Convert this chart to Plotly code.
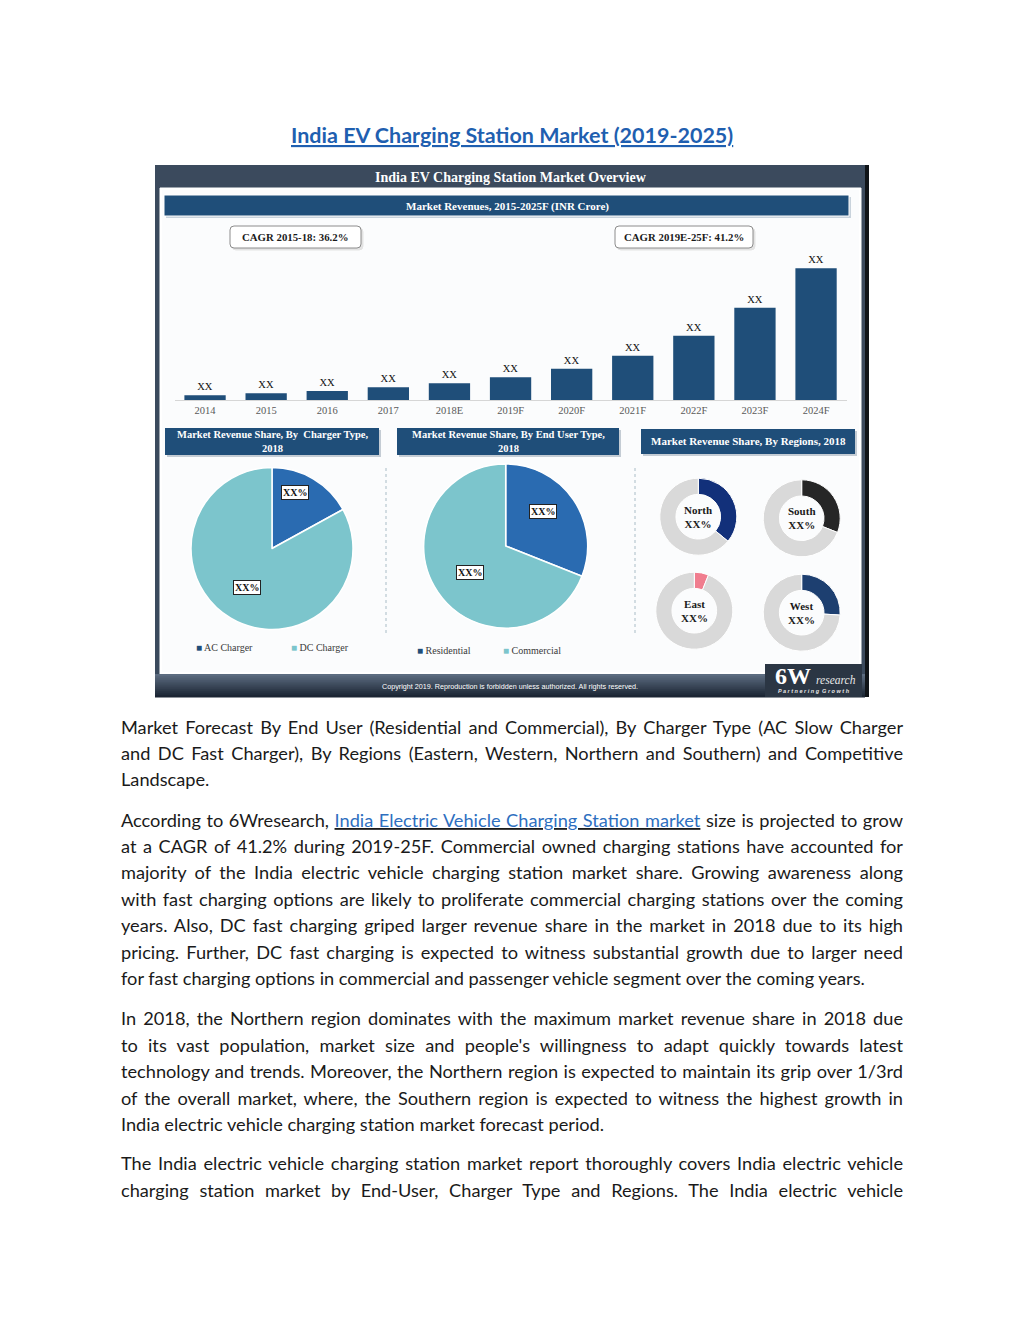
import json
import plotly.graph_objects as go

W, H = 1024, 1325


def px(x):
    return x / W


def py(y):
    return 1 - y / H


# ---------------- data ----------------
years = ["2014", "2015", "2016", "2017", "2018E", "2019F", "2020F", "2021F", "2022F", "2023F", "2024F"]
revenue = [4.7, 6.7, 9.0, 12.7, 16.7, 22.7, 31.3, 44.3, 64.3, 92.3, 131.7]
bar_labels = ["XX"] * len(years)

charger_types = ["AC Charger", "DC Charger"]
charger_share = [17, 83]
charger_labels = ["XX%", "XX%"]

end_users = ["Residential", "Commercial"]
end_user_share = [31, 69]
end_user_labels = ["XX%", "XX%"]

regions = ["North", "South", "East", "West"]
region_share = [36, 31, 6, 26]
region_labels = ["XX%", "XX%", "XX%", "XX%"]

cagr_texts = ["CAGR 2015-18: 36.2%", "CAGR 2019E-25F: 41.2%"]

page_title = "India EV Charging Station Market (2019-2025)"
panel_title = "India EV Charging Station Market Overview"
bar_title = "Market Revenues, 2015-2025F (INR Crore)"
section_titles = ["Market Revenue Share, By  Charger Type,<br>2018",
                  "Market Revenue Share, By End User Type,<br>2018",
                  "Market Revenue Share, By Regions, 2018"]
copyright_text = "Copyright 2019. Reproduction is forbidden unless authorized. All rights reserved."

link_text = "India Electric Vehicle Charging Station market"
paragraphs = [
    ["Market Forecast By End User (Residential and Commercial), By Charger Type (AC Slow Charger",
     "and DC Fast Charger), By Regions (Eastern, Western, Northern and Southern) and Competitive",
     "Landscape."],
    ["According to 6Wresearch, {LINK} size is projected to grow",
     "at a CAGR of 41.2% during 2019-25F. Commercial owned charging stations have accounted for",
     "majority of the India electric vehicle charging station market share. Growing awareness along",
     "with fast charging options are likely to proliferate commercial charging stations over the coming",
     "years. Also, DC fast charging griped larger revenue share in the market in 2018 due to its high",
     "pricing. Further, DC fast charging is expected to witness substantial growth due to larger need",
     "for fast charging options in commercial and passenger vehicle segment over the coming years."],
    ["In 2018, the Northern region dominates with the maximum market revenue share in 2018 due",
     "to its vast population, market size and people's willingness to adapt quickly towards latest",
     "technology and trends. Moreover, the Northern region is expected to maintain its grip over 1/3rd",
     "of the overall market, where, the Southern region is expected to witness the highest growth in",
     "India electric vehicle charging station market forecast period."],
    ["The India electric vehicle charging station market report thoroughly covers India electric vehicle",
     "charging station market by End-User, Charger Type and Regions. The India electric vehicle"],
]

# ---------------- styles ----------------
FRAME = "#3b4a5d"
NAVY = "#1f4e79"
PIE_DARK = "#2a6bb1"
PIE_LIGHT = "#7cc5cc"
RING_GRAY = "#d9d9d9"
region_colors = ["#12307a", "#262626", "#f07d8e", "#1d3f70"]
SERIF = "Liberation Serif, DejaVu Serif, serif"
BODY = "Lato, Open Sans, sans-serif"

fig = go.Figure()

# bar chart
fig.add_trace(go.Bar(
    x=years, y=revenue, text=bar_labels, textposition="outside",
    textfont=dict(family=SERIF, size=10.5, color="#111"),
    marker=dict(color=NAVY, line=dict(width=0)),
    cliponaxis=False, hoverinfo="skip", showlegend=False,
))

# pies
fig.add_trace(go.Pie(
    labels=charger_types, values=charger_share, sort=False, direction="clockwise",
    rotation=0, textinfo="none", hoverinfo="skip", showlegend=False,
    marker=dict(colors=[PIE_DARK, PIE_LIGHT], line=dict(color="white", width=1.5)),
    domain=dict(x=[px(191), px(353)], y=[py(629.5), py(467.5)]),
))
fig.add_trace(go.Pie(
    labels=end_users, values=end_user_share, sort=False, direction="clockwise",
    rotation=0, textinfo="none", hoverinfo="skip", showlegend=False,
    marker=dict(colors=[PIE_DARK, PIE_LIGHT], line=dict(color="white", width=1.5)),
    domain=dict(x=[px(423.7), px(587.7)], y=[py(628), py(464)]),
))

donut_centers = [(698.3, 516.7), (801.7, 518.3), (694.3, 610.7), (801.7, 612.7)]
R = 38.5
for name, share, col, (cx, cy) in zip(regions, region_share, region_colors, donut_centers):
    fig.add_trace(go.Pie(
        labels=[name, "Other"], values=[share, 100 - share], sort=False, direction="clockwise",
        rotation=0, hole=0.58, textinfo="none", hoverinfo="skip", showlegend=False,
        marker=dict(colors=[col, RING_GRAY], line=dict(color="white", width=1)),
        domain=dict(x=[px(cx - R), px(cx + R)], y=[py(cy + R), py(cy - R)]),
    ))

shapes = []
annotations = []


def rect(x0, y0, x1, y1, fill, line_color=None, line_width=0, layer="below"):
    shapes.append(dict(type="rect", xref="paper", yref="paper",
                       x0=px(x0), x1=px(x1), y0=py(y1), y1=py(y0),
                       fillcolor=fill, layer=layer,
                       line=dict(color=line_color or fill, width=line_width)))


def text(x, y, s, size, color="#000", family=SERIF, xanchor="center", **kw):
    annotations.append(dict(x=px(x), y=py(y), xref="paper", yref="paper", text=s,
                            showarrow=False, xanchor=xanchor, yanchor="middle",
                            font=dict(family=family, size=size, color=color), **kw))
    return len(annotations) - 1


def rounded(x0, y0, x1, y1, r, fill, line):
    X0, X1 = px(x0), px(x1)
    Y0, Y1 = py(y0), py(y1)
    rx, ry = r / W, r / H
    path = (f"M {X0+rx},{Y0} L {X1-rx},{Y0} Q {X1},{Y0} {X1},{Y0-ry} "
            f"L {X1},{Y1+ry} Q {X1},{Y1} {X1-rx},{Y1} L {X0+rx},{Y1} "
            f"Q {X0},{Y1} {X0},{Y1+ry} L {X0},{Y0-ry} Q {X0},{Y0} {X0+rx},{Y0} Z")
    shapes.append(dict(type="path", xref="paper", yref="paper", path=path,
                       fillcolor=fill, line=dict(color=line, width=1), layer="below"))


# frame
rect(155, 165, 869, 697, FRAME)
rect(865, 165, 869, 697, "#101418")
rect(160, 188, 861, 674, "#ffffff", "#ffffff", 1)
rect(162, 190, 859, 672, "#fbfcfd")
# footer gradient
top_c = (92, 108, 128)
bot_c = (28, 38, 52)
n = 12
for i in range(n):
    t = i / (n - 1)
    c = tuple(int(top_c[k] + (bot_c[k] - top_c[k]) * t) for k in range(3))
    y0 = 674 + i * (697 - 674) / n
    rect(155, y0, 865, y0 + (697 - 674) / n + 0.5, "rgb(%d,%d,%d)" % c)

# header bar
rect(166, 197, 851, 218, "#c9d3dc")
rect(164, 195, 849, 216, NAVY, "#ffffff", 1)

# CAGR boxes
rounded(232, 228, 363, 250, 4, "#e3e3e3", "#e3e3e3")
rounded(230, 226, 361, 248, 4, "#ffffff", "#8c8c8c")
rounded(617, 228, 755, 250, 4, "#e3e3e3", "#e3e3e3")
rounded(615, 226, 753, 248, 4, "#ffffff", "#8c8c8c")

# section headers
for (x0, y0, x1, y1) in [(165, 428, 379, 455), (397, 428, 619, 455), (641, 429, 855, 454)]:
    rect(x0 + 2, y0 + 2, x1 + 2, y1 + 2, "#c4ccd4")
    rect(x0, y0, x1, y1, NAVY)

# dotted separators
for x in (386, 635):
    shapes.append(dict(type="line", xref="paper", yref="paper", x0=px(x), x1=px(x),
                       y0=py(468), y1=py(636), line=dict(color="#a9bcc6", width=1, dash="dot"),
                       layer="below"))

# logo box
rect(765, 664, 862, 697, "#2b3644")

# ---------------- texts ----------------
text(512, 135, "<b><u>" + page_title + "</u></b>", 21.5, "#1f5fb0", BODY)
text(511, 177, "<b>" + panel_title + "</b>", 14, "#ffffff")
text(507, 206, "<b>" + bar_title + "</b>", 11, "#ffffff")
text(295, 237, "<b>" + cagr_texts[0] + "</b>", 10.8, "#1a1a1a")
text(684, 237, "<b>" + cagr_texts[1] + "</b>", 10.8, "#1a1a1a")
text(272, 441.5, "<b>" + section_titles[0] + "</b>", 10.5, "#ffffff")
text(508, 441.5, "<b>" + section_titles[1] + "</b>", 10.5, "#ffffff")
text(748, 441.5, "<b>" + section_titles[2] + "</b>", 11, "#ffffff")

box = dict(bgcolor="#ffffff", bordercolor="#222222", borderwidth=1, borderpad=1)
text(295, 492.5, "<b>" + charger_labels[0] + "</b>", 10, "#111", **box)
text(247, 587, "<b>" + charger_labels[1] + "</b>", 10, "#111", **box)
text(543, 511, "<b>" + end_user_labels[0] + "</b>", 10, "#111", **box)
text(470, 573, "<b>" + end_user_labels[1] + "</b>", 10, "#111", **box)

legend_items = [
    (194, 648, charger_types[0], NAVY), (289, 648, charger_types[1], PIE_LIGHT),
    (415, 650, end_users[0], NAVY), (501, 650, end_users[1], PIE_LIGHT),
]
for x, y, lab, col in legend_items:
    text(x, y, "<span style='color:%s'>■</span> %s" % (col, lab), 10, "#3a3a3a", xanchor="left")

for name, lab, (cx, cy) in zip(regions, region_labels, donut_centers):
    text(cx, cy, "<b>%s<br>%s</b>" % (name, lab), 11, "#1a1a1a")

text(510, 687, copyright_text, 7.2, "#ffffff", "Liberation Sans, Arial, sans-serif")
text(793, 676, "<b>6W</b>", 24, "#ffffff", SERIF)
text(836, 680, "<i>research</i>", 11.5, "#e8e8e8", SERIF)
text(814, 691, "<b><i>P a r t n e r i n g  G r o w t h</i></b>", 5.5, "#e8e8e8",
     "Liberation Sans, Arial, sans-serif")

# body paragraphs (all but the last line of each paragraph are justified)
line_ys = [[727, 753, 779],
           [820, 846, 872, 899, 925, 952, 978],
           [1018, 1045, 1071, 1098, 1124],
           [1163, 1190]]
justified = []
for pi, (para, ys) in enumerate(zip(paragraphs, line_ys)):
    for li, (line, y) in enumerate(zip(para, ys)):
        s = line.replace("{LINK}", "<u><span style='color:#2e6fbf'>" + link_text + "</span></u>")
        idx = text(119, y, s, 18.2, "#1a1a1a", BODY, xanchor="left", align="left")
        is_last = li == len(para) - 1
        if not is_last or pi == len(paragraphs) - 1:
            justified.append(idx)

# ---------------- layout ----------------
fig.update_layout(
    width=W, height=H, margin=dict(l=0, r=0, t=0, b=0),
    paper_bgcolor="#ffffff", plot_bgcolor="rgba(0,0,0,0)",
    bargap=0.324, showlegend=False,
    shapes=shapes, annotations=annotations,
    xaxis=dict(domain=[px(174.5), px(846.6)], type="category",
               showgrid=False, zeroline=False, showline=True, linecolor="#d6d6d6", linewidth=1,
               ticks="", tickfont=dict(family=SERIF, size=10.5, color="#595959"), fixedrange=True),
    yaxis=dict(domain=[py(400), py(250)], range=[0, 150], visible=False, fixedrange=True),
)

justify_js = """
document.body.style.margin='0';
document.body.style.overflow='hidden';
try {
  var idx = %s;
  var target = %f;
  idx.forEach(function(i){
    var t = document.querySelector('g.annotation[data-index="' + i + '"] text.annotation-text');
    if (!t) return;
    var w = t.getComputedTextLength();
    var n = (t.textContent.match(/ /g) || []).length;
    if (n > 0 && w < target) { t.style.wordSpacing = ((target - w) / n) + 'px'; }
  });
} catch (e) {}
""" % (json.dumps(justified), 903 - 121)

fig.write_html("out.html", config=dict(displayModeBar=False, staticPlot=True),
               post_script=justify_js)
